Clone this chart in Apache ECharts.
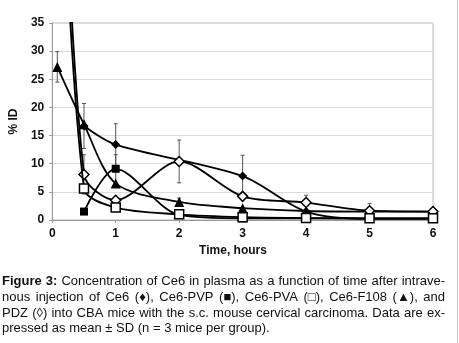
<!DOCTYPE html>
<html><head><meta charset="utf-8">
<script src="https://cdn.jsdelivr.net/npm/echarts@6/dist/echarts.min.js"></script>
<style>html,body{margin:0;padding:0;background:#fff}#c{width:459px;height:343px}</style>
</head><body><div id="c"></div>
<script>
// ---- data ----
const xTicks = [0, 1, 2, 3, 4, 5, 6];
const yTicks = [0, 5, 10, 15, 20, 25, 30, 35];
const ce6Time = [0.5, 1, 3, 4, 5, 6];
const ce6Val  = [16.7, 13.4, 7.8, 1.5, 0.2, 0.2];
const pvpTime = [0.5, 1, 2, 3, 4, 5, 6];
const pvpVal  = [1.5, 9.1, 0.9, 0.3, 0.3, 0.3, 0.3];
const pvaTime = [0.08, 0.5, 1, 2, 3, 4, 5, 6];
const pvaVal  = [85, 5.6, 2.2, 1.0, 0.5, 0.35, 0.3, 0.3];
const f108Time = [0.08, 0.5, 1, 2, 3, 4, 5, 6];
const f108Val  = [27.2, 17.0, 6.5, 3.2, 2.1, 1.6, 1.5, 1.5];
const pdzTime = [0.08, 0.5, 1, 2, 3, 4, 5, 6];
const pdzVal  = [95, 8.1, 3.5, 10.4, 4.2, 3.1, 1.65, 1.5];
// error bars: time, mean, sd
const errTime = [0.08, 0.5, 0.5, 1, 1, 2, 2, 3, 4, 5, 6];
const errMean = [27.2, 16.7, 8.1, 13.4, 9.1, 10.4, 3.2, 7.8, 3.1, 1.65, 1.5];
const errSd   = [2.7, 4.0, 3.5, 3.7, 2.5, 3.8, 0.7, 3.7, 1.3, 1.3, 0.4];
const xName = 'Time, hours';
const yName = '% ID';
const captionLines = [
  'Figure 3: Concentration of Ce6 in plasma as a function of time after intrave-',
  'nous injection of Ce6 (\u2666), Ce6-PVP (\u25A0), Ce6-PVA (\u25A1), Ce6-F108 (\u25B2), and',
  'PDZ (\u25CA) into CBA mice with the s.c. mouse cervical carcinoma. Data are ex-',
  'pressed as mean \u00B1 SD (n = 3 mice per group).'
];

const zip = (a, b) => a.map((v, i) => [v, b[i]]);
const FONT = 'Arial, "Liberation Sans", sans-serif';

const chart = echarts.init(document.getElementById('c'), null, {renderer: 'canvas'});

function lineSeries(name, t, v, symbol, size, fill, z) {
  return {
    name, type: 'line', data: zip(t, v), smooth: 0.3, z,
    symbol, symbolSize: size, showSymbol: true,
    lineStyle: {color: '#000', width: 1.8},
    itemStyle: {color: fill, borderColor: '#000', borderWidth: fill === '#fff' ? 1.5 : 0},
    clip: true
  };
}

// caption, justified
const capSize = 13;
const capLeft = 2, capRight = 445;
const capY = [281, 297, 313, 328.5];
const ctx = document.createElement('canvas').getContext('2d');
function tw(s, bold) { ctx.font = (bold ? 'bold ' : '') + capSize + 'px ' + FONT; return ctx.measureText(s).width; }
const graphics = [];
captionLines.forEach((line, li) => {
  const words = line.split(' ');
  const bolds = words.map((w, i) => li === 0 && i < 2);
  const widths = words.map((w, i) => tw(w, bolds[i]));
  const total = widths.reduce((a, b) => a + b, 0);
  const last = li === captionLines.length - 1;
  const gap = last ? tw(' ', false) : (capRight - capLeft - total) / (words.length - 1);
  let x = capLeft;
  words.forEach((w, i) => {
    graphics.push({type: 'text', x: x, y: capY[li],
      style: {text: w, font: (bolds[i] ? 'bold ' : '') + capSize + 'px ' + FONT, fill: '#111', textVerticalAlign: 'middle', verticalAlign: 'middle'}});
    x += widths[i] + gap;
  });
});
graphics.push({type: 'text', x: 233, y: 251, style: {text: xName, font: 'bold 12px ' + FONT, fill: '#111', align: 'center', textAlign: 'center', verticalAlign: 'middle', textVerticalAlign: 'middle'}});
graphics.push({type: 'line', shape: {x1: 457.5, y1: 0, x2: 457.5, y2: 343}, style: {stroke: '#c8c8c8', lineWidth: 1}});

const errData = errTime.map((t, i) => [t, errMean[i] - errSd[i], errMean[i] + errSd[i]]);

chart.setOption({
  animation: false,
  grid: {left: 48, right: 26, top: 23, bottom: 123, show: true, borderColor: '#b8b8b8', borderWidth: 1},
  xAxis: {
    type: 'value', min: xTicks[0], max: xTicks[xTicks.length - 1], interval: 1,
    axisLine: {show: true, lineStyle: {color: '#999', width: 1}},
    axisTick: {show: true, length: 3, lineStyle: {color: '#999'}},
    splitLine: {show: false},
    axisLabel: {fontFamily: FONT, fontWeight: 'bold', fontSize: 12, color: '#111', margin: 8}
  },
  yAxis: {
    type: 'value', min: yTicks[0], max: yTicks[yTicks.length - 1], interval: 5,
    name: yName, nameLocation: 'middle', nameGap: 30, nameRotate: 90,
    nameTextStyle: {fontFamily: FONT, fontWeight: 'bold', fontSize: 12, color: '#111'},
    axisLine: {show: true, lineStyle: {color: '#999', width: 1}},
    axisTick: {show: true, length: 3, lineStyle: {color: '#999'}},
    splitLine: {show: true, lineStyle: {color: '#dcdcdc', width: 1}},
    axisLabel: {fontFamily: FONT, fontWeight: 'bold', fontSize: 12, color: '#111', margin: 8}
  },
  graphic: graphics,
  series: [
    {
      type: 'custom', z: 1, data: errData, clip: true,
      renderItem: function (params, api) {
        const x = api.value(0), lo = api.value(1), hi = api.value(2);
        const a = api.coord([x, hi]), b = api.coord([x, lo]);
        const st = {stroke: '#555', lineWidth: 1};
        return {type: 'group', children: [
          {type: 'line', shape: {x1: a[0], y1: a[1], x2: b[0], y2: b[1]}, style: st},
          {type: 'line', shape: {x1: a[0] - 2, y1: a[1], x2: a[0] + 2, y2: a[1]}, style: st},
          {type: 'line', shape: {x1: b[0] - 2, y1: b[1], x2: b[0] + 2, y2: b[1]}, style: st}
        ]};
      }
    },
    lineSeries('Ce6-PVP', pvpTime, pvpVal, 'rect', 8, '#000', 2),
    lineSeries('Ce6-F108', f108Time, f108Val, 'triangle', 10, '#000', 3),
    lineSeries('Ce6', ce6Time, ce6Val, 'diamond', 9, '#000', 4),
    lineSeries('PDZ', pdzTime, pdzVal, 'diamond', 10, '#fff', 5),
    lineSeries('Ce6-PVA', pvaTime, pvaVal, 'rect', 9, '#fff', 6)
  ]
});
</script>
</body></html>
